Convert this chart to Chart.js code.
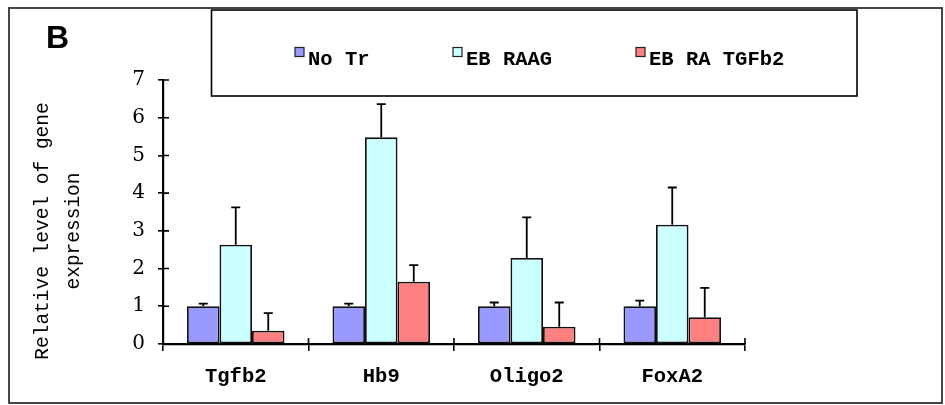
<!DOCTYPE html>
<html>
<head>
<meta charset="utf-8">
<script src="https://cdn.jsdelivr.net/npm/chart.js@4.4.1/dist/chart.umd.min.js"></script>
<style>
  html, body { margin: 0; padding: 0; background: #fff; }
  #wrap { width: 945px; height: 405px; }
</style>
</head>
<body>
<div id="wrap"><canvas id="chart" width="945" height="405"></canvas></div>
<script>
// data
const genes = ['Tgfb2', 'Hb9', 'Oligo2', 'FoxA2'];
const seriesNames = ['No Tr', 'EB RAAG', 'EB RA TGFb2'];
const noTr = [1.0, 1.0, 1.0, 1.0];
const ebRaag = [2.63, 5.48, 2.28, 3.16];
const ebRaTgfb2 = [0.35, 1.65, 0.46, 0.71];
const noTrErr = [0.07, 0.07, 0.10, 0.15];
const ebRaagErr = [0.99, 0.88, 1.08, 0.99];
const ebRaTgfb2Err = [0.47, 0.44, 0.64, 0.78];
const yTicks = [0, 1, 2, 3, 4, 5, 6, 7];

const colors = ['#9999ff', '#ccffff', '#ff8080'];
const monoFont = '"Liberation Mono", "DejaVu Sans Mono", monospace';

// upper error bars, drawn through the y scale
const errorBars = {
    id: 'errorBars',
    afterDatasetsDraw(chart) {
        const ctx = chart.ctx;
        const y = chart.scales.y;
        ctx.save();
        ctx.strokeStyle = '#000';
        ctx.lineWidth = 1.8;
        chart.data.datasets.forEach((ds, i) => {
            const meta = chart.getDatasetMeta(i);
            meta.data.forEach((bar, j) => {
                const top = y.getPixelForValue(ds.data[j] + ds.errors[j]);
                ctx.beginPath();
                ctx.moveTo(bar.x, bar.y);
                ctx.lineTo(bar.x, top);
                ctx.moveTo(bar.x - 4.5, top);
                ctx.lineTo(bar.x + 4.5, top);
                ctx.stroke();
            });
        });
        ctx.restore();
    }
};

// frame, legend box, panel letter, axis title, inner halves of tick marks
const decorations = {
    id: 'decorations',
    beforeDraw(chart) {
        const ctx = chart.ctx;
        ctx.save();
        ctx.fillStyle = '#fff';
        ctx.fillRect(0, 0, chart.width, chart.height);
        ctx.restore();
    },
    afterDraw(chart) {
        const ctx = chart.ctx;
        const { x, y } = chart.scales;
        ctx.save();

        // outer frame
        ctx.strokeStyle = '#333';
        ctx.lineWidth = 1.8;
        ctx.strokeRect(9, 8, 933, 395);

        // legend box
        ctx.strokeStyle = '#000';
        ctx.lineWidth = 1.6;
        ctx.strokeRect(211.5, 10, 645.5, 86);

        // legend items
        const itemX = [295, 453, 636];
        ctx.font = 'bold 20.5px ' + monoFont;
        ctx.textBaseline = 'alphabetic';
        ctx.fillStyle = '#000';
        seriesNames.forEach((name, i) => {
            ctx.fillStyle = colors[i];
            ctx.fillRect(itemX[i], 47.5, 9, 9);
            ctx.strokeStyle = '#222';
            ctx.lineWidth = 1.2;
            ctx.strokeRect(itemX[i], 47.5, 9, 9);
            ctx.fillStyle = '#000';
            ctx.fillText(name, itemX[i] + 13, 64.5);
        });

        // panel letter
        ctx.font = 'bold 32px "Liberation Sans", Arial, sans-serif';
        ctx.fillText('B', 46, 48);

        // y axis title, two lines
        ctx.translate(0, 231);
        ctx.rotate(-Math.PI / 2);
        ctx.font = '19.5px ' + monoFont;
        ctx.textAlign = 'center';
        ctx.textBaseline = 'middle';
        ctx.fillText('Relative level of gene', 0, 43);
        ctx.fillText('expression', 0, 74);
        ctx.setTransform(1, 0, 0, 1, 0, 0);

        // tick marks cross the axes
        ctx.strokeStyle = '#000';
        ctx.lineWidth = 1.6;
        ctx.beginPath();
        yTicks.forEach(v => {
            const py = y.getPixelForValue(v);
            ctx.moveTo(x.left, py);
            ctx.lineTo(x.left + 6, py);
        });
        const step = (x.right - x.left) / genes.length;
        for (let i = 0; i <= genes.length; i++) {
            const px = x.left + i * step;
            ctx.moveTo(px, y.bottom);
            ctx.lineTo(px, y.bottom - 6);
        }
        ctx.stroke();
        ctx.restore();
    }
};

const datasets = [noTr, ebRaag, ebRaTgfb2].map((vals, i) => ({
    label: seriesNames[i],
    data: vals,
    errors: [noTrErr, ebRaagErr, ebRaTgfb2Err][i],
    backgroundColor: colors[i],
    borderColor: '#111',
    borderWidth: 1.8,
    borderSkipped: false,
    barPercentage: 1.0,
    categoryPercentage: 0.67
}));

new Chart(document.getElementById('chart'), {
    type: 'bar',
    data: { labels: genes, datasets },
    options: {
        responsive: false,
        animation: false,
        events: [],
        layout: { padding: { top: 80, right: 200, bottom: 0, left: 0 } },
        plugins: {
            legend: { display: false },
            tooltip: { enabled: false }
        },
        scales: {
            x: {
                afterFit(scale) { scale.height = 61; },
                border: { display: true, color: '#000', width: 2.2 },
                grid: {
                    offset: true,
                    drawOnChartArea: false,
                    drawTicks: true,
                    tickLength: 7,
                    color: '#000',
                    lineWidth: 1.6
                },
                ticks: {
                    color: '#000',
                    padding: 14,
                    font: { family: monoFont, size: 20.5, weight: 'bold' }
                }
            },
            y: {
                min: 0,
                max: 7,
                afterFit(scale) { scale.width = 163; },
                afterBuildTicks(scale) { scale.ticks = yTicks.map(v => ({ value: v })); },
                border: { display: true, color: '#000', width: 2.2 },
                grid: {
                    drawOnChartArea: false,
                    drawTicks: true,
                    tickLength: 5,
                    color: '#000',
                    lineWidth: 1.6
                },
                ticks: {
                    color: '#000',
                    padding: 13,
                    font: { family: '"DejaVu Serif", serif', size: 20 }
                }
            }
        }
    },
    plugins: [errorBars, decorations]
});
</script>
</body>
</html>
